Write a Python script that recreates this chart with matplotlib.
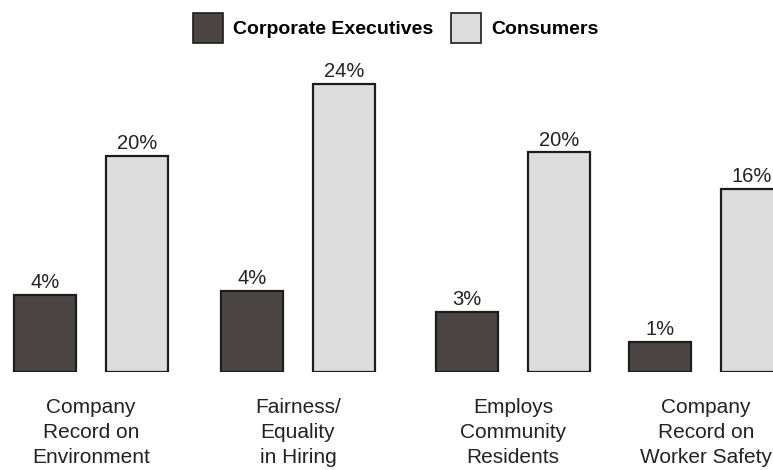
import matplotlib
matplotlib.use("Agg")
import matplotlib.pyplot as plt
from matplotlib.patches import Patch

plt.rcParams['font.family'] = ['Liberation Sans', 'DejaVu Sans']

categories = ["Company\nRecord on\nEnvironment", "Fairness/\nEquality\nin Hiring",
              "Employs\nCommunity\nResidents", "Company\nRecord on\nWorker Safety"]
series_names = ["Corporate Executives", "Consumers"]
# bar heights as drawn in the picture, and the printed labels
exec_heights = [6.4, 6.75, 5.0, 2.5]
cons_heights = [18.0, 24.0, 18.3, 15.25]
exec_labels = ["4%", "4%", "3%", "1%"]
cons_labels = ["20%", "24%", "20%", "16%"]

# layout (horizontal group centres in pixels)
group_x = [91, 298, 513, 706]
offset = 46
bar_w = 62
dark = "#4b4644"
light = "#dcdcdc"
edge = "#1c1c1c"

fig = plt.figure(figsize=(7.73, 4.70), dpi=100)
ax = fig.add_axes([0, 1 - 372 / 470, 1, 372 / 470])
ax.set_xlim(0, 773)
ax.set_ylim(0, 31)
ax.axis("off")

xe = [g - offset for g in group_x]
xc = [g + offset for g in group_x]
b1 = ax.bar(xe, exec_heights, width=bar_w, color=dark, edgecolor=edge, linewidth=1.6)
b2 = ax.bar(xc, cons_heights, width=bar_w, color=light, edgecolor=edge, linewidth=1.6)

for bars, labels in [(b1, exec_labels), (b2, cons_labels)]:
    for rect, lab in zip(bars, labels):
        ax.annotate(lab, (rect.get_x() + rect.get_width() / 2, rect.get_height()),
                    xytext=(0, 2), textcoords="offset points", ha="center", va="bottom",
                    fontsize=14.5, color="#222222")

for g, cat in zip(group_x, categories):
    ax.annotate(cat, (g, 0), xytext=(0, -19), textcoords="offset points",
                ha="center", va="top", fontsize=15, color="#222222", linespacing=1.38,
                annotation_clip=False)

handles = [Patch(facecolor=dark, edgecolor=edge, linewidth=1.2),
           Patch(facecolor=light, edgecolor=edge, linewidth=1.2)]
fig.legend(handles, series_names, loc="upper center", bbox_to_anchor=(0.512, 1.01),
           ncol=2, frameon=False, prop={"weight": "bold", "size": 14},
           handlelength=1.55, handleheight=2.0, handletextpad=0.5, columnspacing=0.9)

fig.savefig("out.png", dpi=100)
